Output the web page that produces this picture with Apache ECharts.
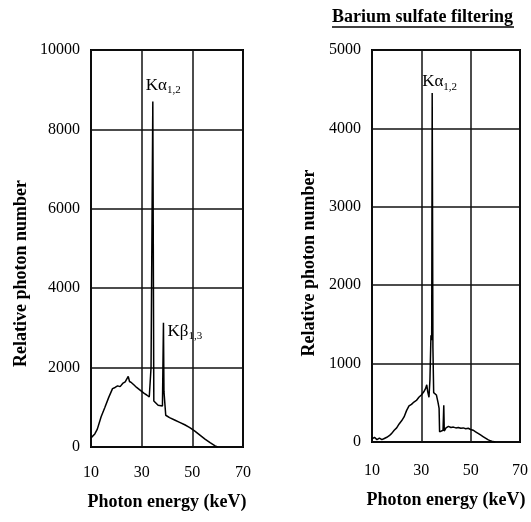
<!DOCTYPE html>
<html>
<head>
<meta charset="utf-8">
<script src="https://cdn.jsdelivr.net/npm/echarts@6.0.0/dist/echarts.min.js"></script>
<style>
    html, body { margin: 0; padding: 0; background: #fff; }
    #chart { width: 531px; height: 522px; }
</style>
</head>
<body>
<div id="chart"></div>
<script>
// unfiltered spectrum (left panel)
var leftEnergy = [10, 10.5, 11.5, 12.5, 14, 15.5, 17, 18.5, 19.5, 20.5, 21.5, 22.5, 23.5, 24.2, 24.7, 25.2, 26, 27, 28, 29, 30, 31, 32, 33, 33.4, 33.7, 34.1, 34.4, 34.8, 35.5, 36.5, 37.2, 38.2, 38.6, 38.8, 39.3, 39.5, 41, 43, 45, 47, 49, 51, 53, 55, 57, 59, 60];
var leftCounts = [230, 260, 330, 450, 760, 1000, 1250, 1470, 1500, 1540, 1520, 1600, 1640, 1600, 1780, 1650, 1620, 1560, 1500, 1450, 1400, 1350, 1310, 1260, 1250, 2000, 2050, 8700, 1160, 1110, 1050, 1000, 1030, 3130, 1400, 1450, 800, 740, 680, 620, 560, 490, 400, 300, 200, 110, 30, 0];

// barium sulfate filtering (right panel)
var rightEnergy = [10, 11, 12, 13, 14, 15, 16, 17, 18, 19, 20, 21, 22, 23, 24, 25, 26, 27, 28, 29, 30, 31, 31.7, 32.2, 32.6, 33.1, 33.5, 33.9, 34.2, 34.4, 34.7, 35, 35.5, 36.1, 36.8, 37.2, 37.4, 38, 38.8, 39.1, 39.3, 40, 41, 42, 43, 44, 45, 46, 47, 48, 49, 50, 51, 52, 53, 54, 55, 56, 57, 58, 59, 60];
var rightCounts = [40, 60, 30, 50, 30, 45, 60, 80, 110, 150, 180, 230, 270, 320, 400, 460, 480, 510, 530, 570, 600, 640, 680, 730, 640, 570, 800, 1360, 1300, 4450, 1200, 630, 650, 600, 500, 430, 130, 140, 150, 470, 140, 180, 200, 185, 190, 180, 185, 175, 180, 170, 175, 160, 150, 130, 110, 90, 70, 50, 30, 15, 5, 0];

var xRange = [10, 70];
var leftYMax = 10000;
var rightYMax = 5000;

var serif = 'Liberation Serif';

function pairs(xs, ys) {
    var out = [];
    for (var i = 0; i < xs.length; i++) {
        out.push([xs[i], ys[i]]);
    }
    return out;
}

// index of the tallest point, and of a given energy
var iLeftKa = leftCounts.indexOf(Math.max.apply(null, leftCounts));
var iLeftKb = leftEnergy.indexOf(38.6);
var iRightKa = rightCounts.indexOf(Math.max.apply(null, rightCounts));

var peakRich = {
    k: { fontFamily: serif, fontSize: 17, color: '#000' },
    s: { fontFamily: serif, fontSize: 11, color: '#000', verticalAlign: 'bottom', padding: [0, 0, -2, 0] }
};

function peakMark(x, y, text, align, vAlign, offset) {
    return {
        coord: [x, y],
        symbol: 'circle',
        symbolSize: 0,
        label: {
            show: true,
            position: 'inside',
            align: align,
            verticalAlign: vAlign,
            offset: offset,
            formatter: text,
            rich: peakRich
        }
    };
}

function xAxisOf(grid, gap, margin) {
    return {
        type: 'value',
        gridIndex: grid,
        min: xRange[0],
        max: xRange[1],
        interval: 20,
        name: 'Photon energy (keV)',
        nameLocation: 'middle',
        nameGap: gap,
        nameTextStyle: { fontFamily: serif, fontSize: 18, fontWeight: 'bold', color: '#000' },
        axisLine: { show: false },
        axisTick: { show: false },
        axisLabel: { fontFamily: serif, fontSize: 16, color: '#000', margin: margin },
        splitLine: { show: true, lineStyle: { color: '#111', width: 1.5 } }
    };
}

function yAxisOf(grid, max, gap, shift) {
    return {
        type: 'value',
        gridIndex: grid,
        min: 0,
        max: max,
        interval: max / 5,
        name: 'Relative photon number',
        nameLocation: 'middle',
        nameGap: gap,
        nameTextStyle: { fontFamily: serif, fontSize: 18, fontWeight: 'bold', color: '#000', padding: [0, shift, 0, 0] },
        axisLine: { show: false },
        axisTick: { show: false },
        axisLabel: {
            fontFamily: serif, fontSize: 16, color: '#000', margin: 11,
            formatter: function (v) { return String(v); }
        },
        splitLine: { show: true, lineStyle: { color: '#111', width: 1.5 } }
    };
}

var chart = echarts.init(document.getElementById('chart'));
var option = {
    backgroundColor: '#fff',
    animation: false,
    title: {
        text: 'Barium sulfate filtering',
        left: 332,
        top: 8,
        padding: 0,
        textStyle: { fontFamily: serif, fontSize: 18, fontWeight: 'bold', color: '#000' }
    },
    graphic: [{
        type: 'line',
        shape: { x1: 332, y1: 27, x2: 514, y2: 27 },
        style: { stroke: '#000', lineWidth: 1.5 }
    }],
    grid: [
        { left: 91, right: 288, top: 50, bottom: 75, show: true, borderColor: '#000', borderWidth: 2 },
        { left: 372, right: 10, top: 50, bottom: 80, show: true, borderColor: '#000', borderWidth: 2 }
    ],
    xAxis: [xAxisOf(0, 46, 18), xAxisOf(1, 49, 21)],
    yAxis: [yAxisOf(0, leftYMax, 61, 50), yAxisOf(1, rightYMax, 54, 34)],
    series: [{
        type: 'line',
        xAxisIndex: 0,
        yAxisIndex: 0,
        data: pairs(leftEnergy, leftCounts),
        showSymbol: false,
        lineStyle: { color: '#000', width: 1.5 },
        markPoint: {
            data: [
                peakMark(leftEnergy[iLeftKa], leftCounts[iLeftKa], '{k|Kα}{s|1,2}', 'left', 'bottom', [-7, -8]),
                peakMark(leftEnergy[iLeftKb], leftCounts[iLeftKb], '{k|Kβ}{s|1,3}', 'left', 'top', [4, 0])
            ]
        }
    }, {
        type: 'line',
        xAxisIndex: 1,
        yAxisIndex: 1,
        data: pairs(rightEnergy, rightCounts),
        showSymbol: false,
        lineStyle: { color: '#000', width: 1.5 },
        markPoint: {
            data: [
                peakMark(rightEnergy[iRightKa], rightCounts[iRightKa], '{k|Kα}{s|1,2}', 'left', 'bottom', [-10, -3])
            ]
        }
    }]
};
chart.setOption(option);
</script>
</body>
</html>
